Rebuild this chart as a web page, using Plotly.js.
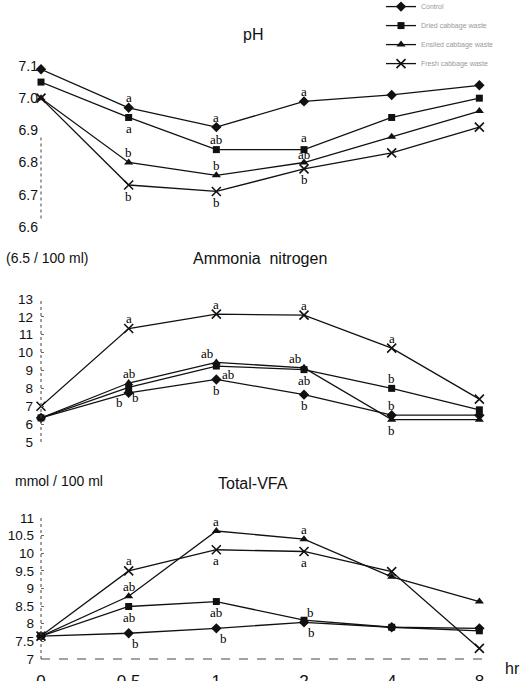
<!DOCTYPE html>
<html>
<head>
<meta charset="utf-8">
<script src="https://cdn.plot.ly/plotly-3.0.1.min.js"></script>
<style>
  html, body { margin: 0; padding: 0; background: #fff; }
  #chart { width: 527px; height: 681px; }
</style>
</head>
<body>
<div id="chart"></div>
<script>
// ---------------- DATA ----------------
const hours = ['0', '0.5', '1', '2', '4', '8'];
const seriesNames = ['Control', 'Dried cabbage waste', 'Ensiled cabbage waste', 'Fresh cabbage waste'];

// pH
const ph1 = [7.09, 6.97, 6.91, 6.99, 7.01, 7.04];
const ph2 = [7.05, 6.94, 6.84, 6.84, 6.94, 7.00];
const ph3 = [7.00, 6.80, 6.76, 6.80, 6.88, 6.96];
const ph4 = [7.00, 6.73, 6.71, 6.78, 6.83, 6.91];

// Ammonia nitrogen
const nh1 = [6.35, 7.75, 8.50, 7.65, 6.50, 6.50];
const nh2 = [6.35, 8.05, 9.25, 9.05, 8.00, 6.80];
const nh3 = [6.35, 8.30, 9.45, 9.15, 6.25, 6.25];
const nh4 = [7.00, 11.35, 12.15, 12.10, 10.25, 7.40];

// Total-VFA
const vfa1 = [7.65, 7.73, 7.87, 8.04, 7.90, 7.87];
const vfa2 = [7.65, 8.49, 8.63, 8.10, 7.90, 7.80];
const vfa3 = [7.65, 8.78, 10.63, 10.40, 9.33, 8.63];
const vfa4 = [7.65, 9.50, 10.10, 10.05, 9.48, 7.30];

// significance letters
const phLet1 = [null, 'a', 'a', 'a', null, null];
const phLet2 = [null, 'a', 'ab', 'a', null, null];
const phLet3 = [null, 'b', 'b', 'ab', null, null];
const phLet4 = [null, 'b', 'b', 'b', null, null];
const nhLet1 = [null, 'b', 'b', 'b', 'b', null];
const nhLet2 = [null, 'b', 'ab', 'ab', 'b', null];
const nhLet3 = [null, 'ab', 'ab', 'ab', 'b', null];
const nhLet4 = [null, 'a', 'a', 'a', 'a', null];
const vfaLet1 = [null, 'b', 'b', 'b', null, null];
const vfaLet2 = [null, 'ab', 'ab', 'b', null, null];
const vfaLet3 = [null, 'ab', 'a', 'a', null, null];
const vfaLet4 = [null, 'a', 'a', 'a', null, null];

const phTicks = [6.6, 6.7, 6.8, 6.9, 7.0, 7.1];
const nhTicks = [5, 6, 7, 8, 9, 10, 11, 12, 13];
const vfaTicks = [7, 7.5, 8, 8.5, 9, 9.5, 10, 10.5, 11];
const vfaTickText = ['7', '7.5', '8', '8.5', '9', '9.5', '10', '10.5', '11'];

// ---------------- LAYOUT HELPERS ----------------
const PL = 41, PR = 489, PB = 659;
const py = p => (PB - p) / PB;
const pxx = p => (p - PL) / (PR - PL);

// placement of letters (style only)
const PLACE = {
  ph: [
    [null, 'above', 'above', 'above'],
    [null, 'below', 'above', 'aboveHigh'],
    [null, 'above', 'above', 'aboveLow'],
    [null, 'below', 'below', 'below']
  ],
  nh: [
    [null, 'belowLeft', 'below', 'below', 'above'],
    [null, 'belowRight', 'belowFarRight', 'below', 'above'],
    [null, 'above', 'aboveLeft', 'aboveLeft', 'below'],
    [null, 'above', 'above', 'above', 'above']
  ],
  vfa: [
    [null, 'belowRight', 'belowRight', 'belowRight'],
    [null, 'below', 'below', 'aboveRight'],
    [null, 'above', 'above', 'above'],
    [null, 'above', 'below', 'below']
  ]
};
const SHIFT = {
  above: [0, 10], below: [0, -11],
  aboveHigh: [0, 12], aboveLow: [0, 8],
  aboveLeft: [-9, 9], belowLeft: [-9, -10],
  aboveRight: [6, 8], belowRight: [7, -10], belowFarRight: [12, -8]
};

const symbols = ['diamond', 'square', 'triangle-up', 'x-thin-open'];
const sizes = [8, 7, 8, 9];
const LINE = '#111';
const FONT = 'Liberation Sans, Arial, sans-serif';

const panels = [
  { key: 'ph', yaxis: 'y', data: [ph1, ph2, ph3, ph4], lets: [phLet1, phLet2, phLet3, phLet4] },
  { key: 'nh', yaxis: 'y2', data: [nh1, nh2, nh3, nh4], lets: [nhLet1, nhLet2, nhLet3, nhLet4] },
  { key: 'vfa', yaxis: 'y3', data: [vfa1, vfa2, vfa3, vfa4], lets: [vfaLet1, vfaLet2, vfaLet3, vfaLet4] }
];

const traces = [];
const annotations = [];
panels.forEach((pn, pi) => {
  pn.data.forEach((vals, si) => {
    traces.push({
      type: 'scatter', mode: 'lines+markers',
      x: hours, y: vals, xaxis: 'x', yaxis: pn.yaxis,
      name: seriesNames[si], legendgroup: 's' + si, showlegend: pi === 0,
      cliponaxis: false,
      line: { color: LINE, width: 1.3 },
      marker: { symbol: symbols[si], size: sizes[si], color: LINE,
                line: { color: LINE, width: si === 3 ? 1.6 : 0 } }
    });
    pn.lets[si].forEach((t, hi) => {
      if (!t) return;
      const pl = PLACE[pn.key][si][hi] || 'above';
      const sh = SHIFT[pl];
      annotations.push({
        // category axis: annotation x given as the category index
        x: hours.indexOf(hours[hi]), y: vals[hi], xref: 'x', yref: pn.yaxis,
        text: t, showarrow: false, xshift: sh[0], yshift: sh[1],
        font: { family: 'Liberation Serif, Times New Roman, serif', size: 13, color: '#000' }
      });
    });
  });
});

function label(text, xp, yp, size, anchor) {
  annotations.push({
    text: text, xref: 'paper', yref: 'paper', x: pxx(xp), y: py(yp),
    xanchor: anchor || 'center', yanchor: 'middle', showarrow: false,
    font: { family: FONT, size: size, color: '#111' }
  });
}
label('pH', 253, 34, 16);
label('Ammonia  nitrogen', 260, 258, 16);
label('(6.5 / 100 ml)', 4, 258, 14, 'left');
label('Total-VFA', 253, 483, 16);
label('mmol / 100 ml', 13, 481, 14, 'left');
label('hr', 503, 668, 16, 'left');

const dotted = { color: '#444', width: 1, dash: 'dot' };
const shapes = [
  { type: 'line', xref: 'x domain', yref: 'y domain', x0: 0, x1: 0, y0: 0.21, y1: 0.63, line: dotted },
  { type: 'line', xref: 'x domain', yref: 'y2 domain', x0: 0, x1: 0, y0: 0, y1: 1, line: dotted },
  { type: 'line', xref: 'x domain', yref: 'y3 domain', x0: 0, x1: 0, y0: 0, y1: 1, line: dotted },
  { type: 'line', xref: 'x domain', yref: 'y3 domain', x0: 0, x1: 1, y0: 0, y1: 0,
    line: { color: '#444', width: 1, dash: 'dash' } }
];

const yCommon = {
  showgrid: false, zeroline: false, showline: false,
  ticks: 'inside', ticklen: 3, tickcolor: '#666', tickwidth: 1,
  anchor: 'x', fixedrange: true
};

const layout = {
  width: 527, height: 681,
  margin: { l: PL, r: 527 - PR, t: 0, b: 681 - PB, autoexpand: false },
  paper_bgcolor: '#fff', plot_bgcolor: '#fff',
  font: { family: FONT, color: '#111' },
  showlegend: true,
  legend: {
    x: pxx(381), xanchor: 'left', y: 1.012, yanchor: 'top',
    font: { family: FONT, size: 7, color: '#999' },
    bgcolor: 'rgba(0,0,0,0)', tracegroupgap: 0, itemwidth: 30
  },
  xaxis: {
    type: 'category', categoryorder: 'array', categoryarray: hours,
    range: [0, 5.11], anchor: 'y3', domain: [0, 1],
    showgrid: false, zeroline: false, showline: false, ticks: '',
    tickfont: { size: 17, family: FONT, color: '#111' }, ticklabelstandoff: 10,
    fixedrange: true
  },
  yaxis: Object.assign({}, yCommon, {
    domain: [py(259), py(66)], range: [6.5, 7.1],
    tickvals: phTicks, tickformat: '.1f', ticks: '',
    tickfont: { size: 14, family: FONT, color: '#111' }, ticklabelstandoff: 2
  }),
  yaxis2: Object.assign({}, yCommon, {
    domain: [py(442), py(299)], range: [5, 13],
    tickvals: nhTicks,
    tickfont: { size: 13.5, family: FONT, color: '#111' }, ticklabelstandoff: 7
  }),
  yaxis3: Object.assign({}, yCommon, {
    domain: [0, py(518)], range: [7, 11],
    tickvals: vfaTicks, ticktext: vfaTickText,
    tickfont: { size: 13.5, family: FONT, color: '#111' }, ticklabelstandoff: 6
  }),
  shapes: shapes,
  annotations: annotations
};

Plotly.newPlot('chart', traces, layout, { displayModeBar: false, staticPlot: true });
</script>
</body>
</html>
